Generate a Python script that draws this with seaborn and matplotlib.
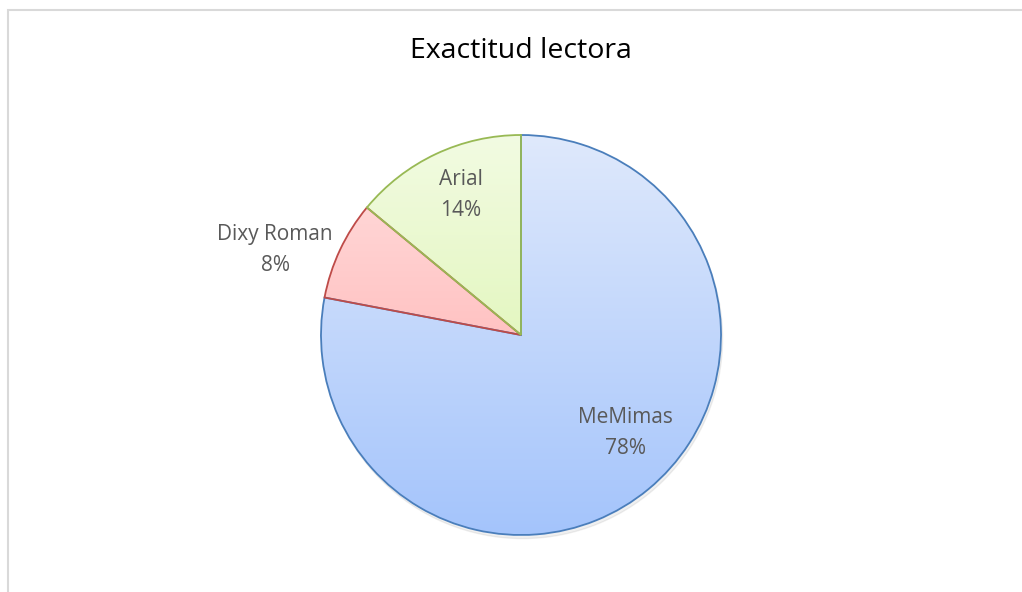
import numpy as np
import matplotlib
matplotlib.use('Agg')
import matplotlib.pyplot as plt
import seaborn as sns
from matplotlib.colors import LinearSegmentedColormap

# Datos
categorias = ["MeMimas", "Dixy Roman", "Arial"]
valores = [78, 8, 14]
titulo = "Exactitud lectora"

# Colores (degradado arriba -> abajo, borde)
grad_top = ["#dfe9fc", "#ffe0e0", "#f2fbe2"]
grad_bot = ["#a4c4fb", "#ffa5a5", "#d6f3a0"]
bordes = ["#4a7ebb", "#be4b48", "#98b954"]

# posiciones de etiquetas (coordenadas del eje)
pos_etiquetas = [(0.52, -0.49), (-1.23, 0.425), (-0.30, 0.70)]

sns.set_style("white")
plt.rcParams['font.family'] = ['Open Sans', 'DejaVu Sans']

fig = plt.figure(figsize=(10.22, 5.92), dpi=100)
ax = fig.add_axes([321 / 1022, 57 / 592, 400 / 1022, 400 / 592])

wedges, _ = ax.pie(valores, startangle=90, counterclock=False, radius=1.0,
                   colors=["none"] * 3, wedgeprops=dict(linewidth=1.3))

# sombra suave
sombra = plt.Circle((0.008, -0.018), 1.0, color="#000000", alpha=0.06,
                    zorder=0, clip_on=False)
ax.add_patch(sombra)
fondo = plt.Circle((0, 0), 1.0, color="white", zorder=0.5, clip_on=False)
ax.add_patch(fondo)

grad = np.linspace(0, 1, 256).reshape(-1, 1)
for w, ct, cb, ce in zip(wedges, grad_top, grad_bot, bordes):
    cmap = LinearSegmentedColormap.from_list("g", [ct, cb])
    im = ax.imshow(grad, cmap=cmap, extent=[-1, 1, -1, 1], origin="upper",
                   aspect="auto", zorder=1)
    im.set_clip_path(w)
    w.set_edgecolor(ce)
    w.set_zorder(2)
    w.set_clip_on(False)

for (x, y), cat, v in zip(pos_etiquetas, categorias, valores):
    ax.text(x, y, f"{cat}\n{v}%", ha="center", va="center", fontsize=15,
            color="#595959", linespacing=1.6, zorder=3)

ax.set_xlim(-1.0, 1.0)
ax.set_ylim(-1.0, 1.0)
ax.set_aspect("equal")
ax.axis("off")

fig.text(521 / 1022, 1 - 51 / 592, titulo, ha="center", va="center",
         fontsize=20.5, color="#000000")

# marco del gráfico
marco = plt.Rectangle((7.5 / 1022, -0.1), 1.2, 1 - 9.5 / 592 + 0.1,
                      transform=fig.transFigure, fill=False,
                      edgecolor="#d9d9d9", linewidth=1.5)
fig.add_artist(marco)

fig.savefig("out.png", dpi=100)
